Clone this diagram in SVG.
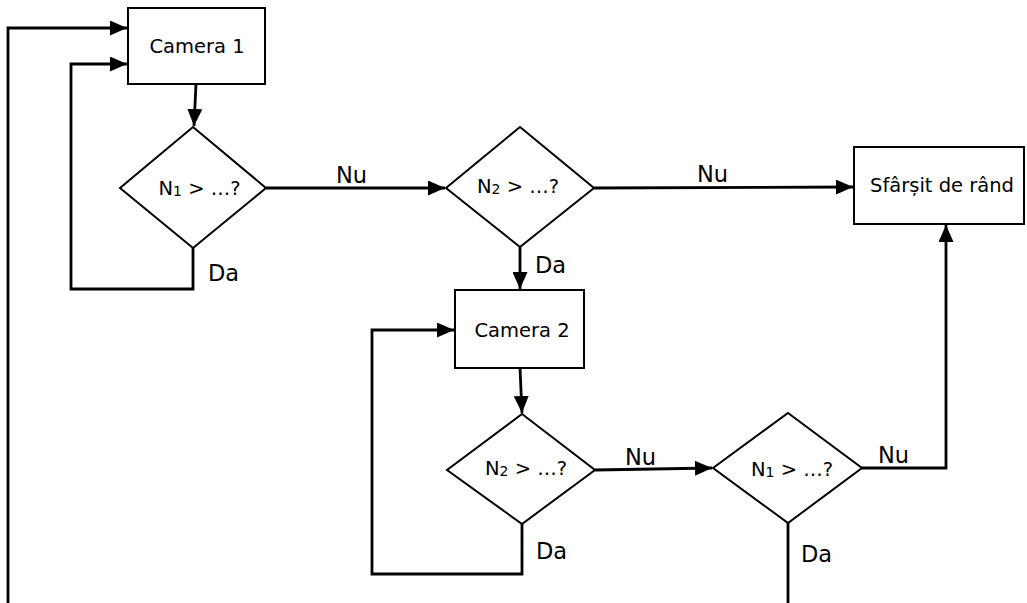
<svg xmlns="http://www.w3.org/2000/svg" width="1027" height="603" viewBox="0 0 1027 603">
<style>
.shape{fill:#fff;stroke:#000;stroke-width:2}
.conn{fill:none;stroke:#000;stroke-width:2.8}
.t{font-family:"DejaVu Sans",Verdana,sans-serif;font-size:19.5px;fill:#000;text-anchor:middle}
.sub{font-size:14px}
.lbl{font-family:"DejaVu Sans",Verdana,sans-serif;font-size:22.5px;fill:#000}
</style>
<defs>
<marker id="ah" markerUnits="userSpaceOnUse" markerWidth="17" markerHeight="15" refX="17" refY="7.5" orient="auto">
<path d="M0,0 L17,7.5 L0,15 Z" fill="#000"/>
</marker>
</defs>
<rect width="1027" height="603" fill="#fff"/>
<g id="connectors">
<path class="conn" d="M8,603 L8,28 L127,28" marker-end="url(#ah)"/>
<path class="conn" d="M193,248 L193,289 L71,289 L71,64 L127,64" marker-end="url(#ah)"/>
<path class="conn" d="M196,84 L194,126" marker-end="url(#ah)"/>
<path class="conn" d="M266,188 L445,188" marker-end="url(#ah)"/>
<path class="conn" d="M594,188 L853,187" marker-end="url(#ah)"/>
<path class="conn" d="M520,247 L520,289" marker-end="url(#ah)"/>
<path class="conn" d="M522,524 L522,574 L372,574 L372,330 L454,330" marker-end="url(#ah)"/>
<path class="conn" d="M520,368 L522,413" marker-end="url(#ah)"/>
<path class="conn" d="M595,470 L712,468" marker-end="url(#ah)"/>
<path class="conn" d="M862,468 L946,468 L946,225" marker-end="url(#ah)"/>
<path class="conn" d="M788,523 L788,603"/>
<text class="lbl" x="336" y="183">Nu</text>
<text class="lbl" x="697" y="182">Nu</text>
<text class="lbl" x="208" y="281">Da</text>
<text class="lbl" x="535" y="273">Da</text>
<text class="lbl" x="625" y="465">Nu</text>
<text class="lbl" x="536" y="559">Da</text>
<text class="lbl" x="878" y="463">Nu</text>
<text class="lbl" x="801" y="562">Da</text>
</g>
<g id="camera1">
<rect class="shape" x="128" y="8" width="137" height="76"/>
<text class="t" x="197" y="53">Camera 1</text>
</g>
<g id="dec1">
<polygon class="shape" points="193,127 266,188 193,248 120,188"/>
<text class="t" x="199.5" y="195">N<tspan class="sub" dy="1">1</tspan><tspan dy="-1"> &gt; …?</tspan></text>
</g>
<g id="dec2">
<polygon class="shape" points="520,127 594,188 520,247 446,188"/>
<text class="t" x="518" y="193">N<tspan class="sub" dy="1">2</tspan><tspan dy="-1"> &gt; …?</tspan></text>
</g>
<g id="end">
<rect class="shape" x="854" y="147" width="170" height="77"/>
<text class="t" x="942" y="192">Sfârșit de rând</text>
</g>
<g id="camera2">
<rect class="shape" x="455" y="290" width="129" height="78"/>
<text class="t" x="522" y="337">Camera 2</text>
</g>
<g id="dec3">
<polygon class="shape" points="522,414 595,470 522,524 447,470"/>
<text class="t" x="526" y="475">N<tspan class="sub" dy="1">2</tspan><tspan dy="-1"> &gt; …?</tspan></text>
</g>
<g id="dec4">
<polygon class="shape" points="788,413 862,468 788,523 713,468"/>
<text class="t" x="792" y="476">N<tspan class="sub" dy="1">1</tspan><tspan dy="-1"> &gt; …?</tspan></text>
</g>
</svg>
